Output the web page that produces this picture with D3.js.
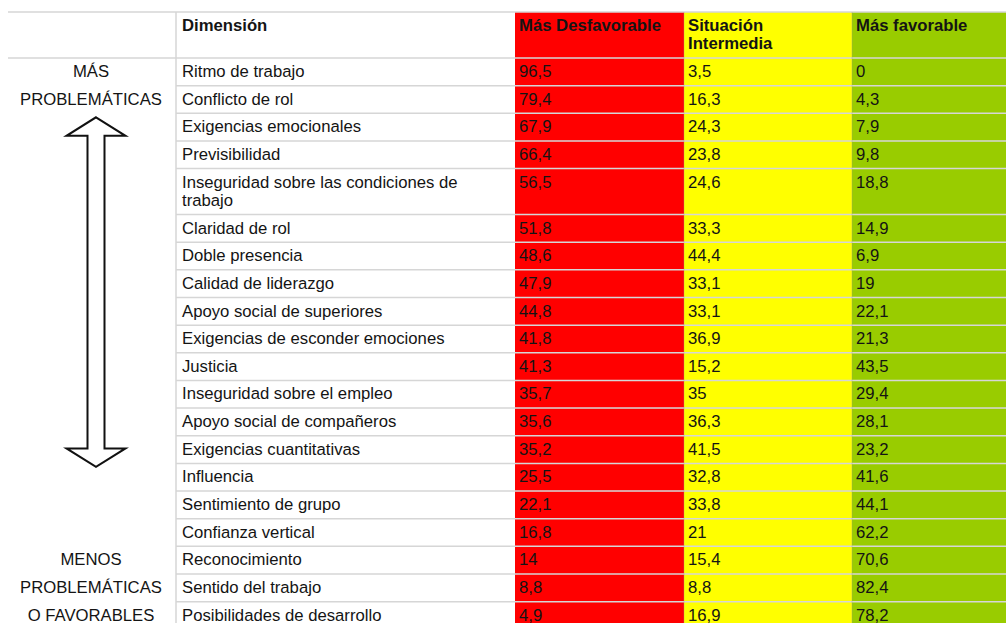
<!DOCTYPE html>
<html>
<head>
<meta charset="utf-8">
<script src="https://cdn.jsdelivr.net/npm/d3@7"></script>
<style>
  body { margin: 0; background: #fff; }
  svg { display: block; font-family: "Liberation Sans", Arial, sans-serif; }
</style>
</head>
<body>
<div id="chart"></div>
<script>
// Datos de la tabla (porcentajes por dimensión)
const dimensiones = [
  "Ritmo de trabajo", "Conflicto de rol", "Exigencias emocionales", "Previsibilidad",
  "Inseguridad sobre las condiciones de trabajo", "Claridad de rol", "Doble presencia",
  "Calidad de liderazgo", "Apoyo social de superiores", "Exigencias de esconder emociones",
  "Justicia", "Inseguridad sobre el empleo", "Apoyo social de compañeros",
  "Exigencias cuantitativas", "Influencia", "Sentimiento de grupo", "Confianza vertical",
  "Reconocimiento", "Sentido del trabajo", "Posibilidades de desarrollo"
];
const masDesfavorable = [96.5, 79.4, 67.9, 66.4, 56.5, 51.8, 48.6, 47.9, 44.8, 41.8, 41.3, 35.7, 35.6, 35.2, 25.5, 22.1, 16.8, 14, 8.8, 4.9];
const situacionIntermedia = [3.5, 16.3, 24.3, 23.8, 24.6, 33.3, 44.4, 33.1, 33.1, 36.9, 15.2, 35, 36.3, 41.5, 32.8, 33.8, 21, 15.4, 8.8, 16.9];
const masFavorable = [0, 4.3, 7.9, 9.8, 18.8, 14.9, 6.9, 19, 22.1, 21.3, 43.5, 29.4, 28.1, 23.2, 41.6, 44.1, 62.2, 70.6, 82.4, 78.2];
const encabezados = ["Dimensión", "Más Desfavorable", "Situación Intermedia", "Más favorable"];
const etiquetasLado = ["MÁS", "PROBLEMÁTICAS", "", "", "", "", "", "", "", "", "", "", "", "", "", "", "",
  "MENOS", "PROBLEMÁTICAS", "O FAVORABLES"];

let svgWidth = 1006;
let svgHeight = 623;

let svg = d3.select("#chart")
  .append("svg")
  .attr("width", svgWidth)
  .attr("height", svgHeight);

// columns
let cols = ["dim", "desf", "inter", "fav"];
let xCol = d3.scaleOrdinal().domain(cols).range([176, 515, 684, 852]);
let colRight = d3.scaleOrdinal().domain(cols).range([515, 684, 852, svgWidth]);
let colFill = d3.scaleOrdinal().domain(cols).range(["#ffffff", "#ff0000", "#ffff00", "#99cc00"]);
let fmt = v => String(v).replace(".", ",");

let tableTop = 12, headerH = 46, rowH = 27.65, lineH = 18.3, fontSize = 16.7;
let textDy = 19;

let rows = dimensiones.map((d, i) => ({
  dim: d, desf: masDesfavorable[i], inter: situacionIntermedia[i], fav: masFavorable[i], side: etiquetasLado[i]
}));

let gCells = svg.append("g");
let gGrid = svg.append("g");
let gText = svg.append("g");

// wrap text into tspans given a max width, return line count
function wrap(textSel, maxWidth) {
  let lines = 1;
  textSel.each(function () {
    let t = d3.select(this);
    let words = t.text().split(/\s+/);
    let x = t.attr("x");
    t.text(null);
    let line = [];
    let tspan = t.append("tspan").attr("x", x).attr("dy", 0);
    let n = 1;
    words.forEach(w => {
      line.push(w);
      tspan.text(line.join(" "));
      if (tspan.node().getComputedTextLength() > maxWidth && line.length > 1) {
        line.pop();
        tspan.text(line.join(" "));
        line = [w];
        tspan = t.append("tspan").attr("x", x).attr("dy", lineH).text(w);
        n++;
      }
    });
    lines = n;
  });
  return lines;
}

// header texts
encabezados.forEach((h, i) => {
  let c = cols[i];
  let t = gText.append("text")
    .attr("x", xCol(c) + (c === "dim" ? 6 : 4))
    .attr("y", tableTop + textDy)
    .attr("font-size", fontSize)
    .attr("font-weight", "bold")
    .attr("fill", "#141414")
    .text(h);
  wrap(t, colRight(c) - xCol(c) - 12);
});

// dimension texts first, to know row heights
let y = tableTop + headerH;
rows.forEach(r => {
  let t = gText.append("text")
    .attr("x", xCol("dim") + 6)
    .attr("font-size", fontSize)
    .attr("fill", "#141414")
    .text(r.dim);
  let n = wrap(t, 300);
  r.top = y;
  r.h = rowH + (n - 1) * lineH;
  t.attr("y", y + textDy);
  y += r.h;
});

// header cells
cols.slice(1).forEach(c => {
  gCells.append("rect")
    .attr("x", xCol(c)).attr("y", tableTop)
    .attr("width", colRight(c) - xCol(c)).attr("height", headerH)
    .attr("fill", colFill(c));
});

// data cells
cols.slice(1).forEach(c => {
  gCells.selectAll(null)
    .data(rows)
    .enter()
    .append("rect")
    .attr("x", xCol(c))
    .attr("y", d => d.top)
    .attr("width", colRight(c) - xCol(c))
    .attr("height", d => d.h)
    .attr("fill", colFill(c));

  gText.selectAll(null)
    .data(rows)
    .enter()
    .append("text")
    .attr("x", xCol(c) + 4)
    .attr("y", d => d.top + textDy)
    .attr("font-size", fontSize)
    .attr("fill", "#141414")
    .text(d => fmt(d[c]));
});

// side labels
gText.selectAll(null)
  .data(rows.filter(d => d.side))
  .enter()
  .append("text")
  .attr("x", 91)
  .attr("y", d => d.top + textDy)
  .attr("text-anchor", "middle")
  .attr("font-size", fontSize)
  .attr("fill", "#141414")
  .text(d => d.side);

// grid lines
let lineCol = "#d6d6d6";
[tableTop, tableTop + headerH].forEach(v => {
  gGrid.append("line")
    .attr("x1", 8).attr("x2", svgWidth).attr("y1", v).attr("y2", v)
    .attr("stroke", lineCol).attr("stroke-width", 1.5);
});
gGrid.selectAll(null)
  .data(rows)
  .enter()
  .append("line")
  .attr("x1", xCol("dim")).attr("x2", svgWidth)
  .attr("y1", d => d.top + d.h).attr("y2", d => d.top + d.h)
  .attr("stroke", lineCol).attr("stroke-width", 1.5);
gGrid.append("line")
  .attr("x1", xCol("dim")).attr("x2", xCol("dim"))
  .attr("y1", tableTop).attr("y2", svgHeight)
  .attr("stroke", lineCol).attr("stroke-width", 1.5);
cols.slice(2).forEach(c => {
  gGrid.append("line")
    .attr("x1", xCol(c)).attr("x2", xCol(c))
    .attr("y1", tableTop).attr("y2", svgHeight)
    .attr("stroke", "rgba(150,150,150,0.35)").attr("stroke-width", 1);
});

// double arrow
let cx = 96, hs = 8.5, hh = 29.5, headL = 18.5;
let yTop = rows[2].top + 4, yBot = rows[14].top + 3.5;
let arrow = [
  [cx, yTop], [cx + hh, yTop + headL], [cx + hs, yTop + headL],
  [cx + hs, yBot - headL], [cx + hh, yBot - headL], [cx, yBot],
  [cx - hh, yBot - headL], [cx - hs, yBot - headL], [cx - hs, yTop + headL],
  [cx - hh, yTop + headL]
];
svg.append("path")
  .attr("d", d3.line()(arrow) + "Z")
  .attr("fill", "#fff")
  .attr("stroke", "#111")
  .attr("stroke-width", 2)
  .attr("stroke-linejoin", "miter");
</script>
</body>
</html>
